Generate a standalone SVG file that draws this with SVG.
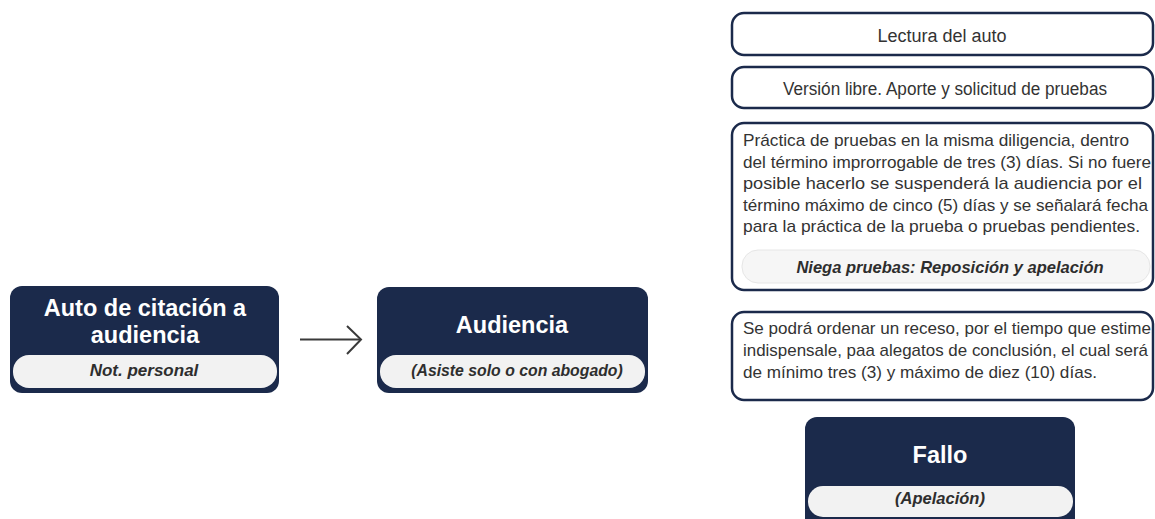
<svg xmlns="http://www.w3.org/2000/svg" width="1155" height="519" viewBox="0 0 1155 519">
<style>
.dark{fill:#1b2a4b;}
.pill{fill:#f2f2f2;}
.out{fill:#ffffff;stroke:#1b2a4b;stroke-width:2.5;}
.title{font-family:"Liberation Sans",Arial,sans-serif;font-weight:bold;font-size:23.5px;fill:#ffffff;text-anchor:middle;}
.sub{font-family:"Liberation Sans",Arial,sans-serif;font-weight:bold;font-style:italic;font-size:16.5px;fill:#2e2e2e;text-anchor:middle;}
.body{font-family:"Liberation Sans",Arial,sans-serif;font-size:18px;fill:#333333;}
.para{font-size:17px;}
.mid{text-anchor:middle;}
.conn{fill:none;stroke:#3a3a3a;stroke-width:2;}
</style>
<rect width="1155" height="519" fill="#ffffff"/>
<g id="connectors">
<line class="conn" x1="300" y1="339.5" x2="361" y2="339.5"/>
<polyline class="conn" points="347,326 361,339.5 347,354"/>
</g>
<g id="node-auto">
<rect class="dark" x="10" y="286" width="269" height="107" rx="12"/>
<rect class="pill" x="13" y="355" width="264" height="33" rx="16"/>
<text class="title" x="145" y="316">Auto de citación a</text>
<text class="title" x="145" y="343">audiencia</text>
<text class="sub" x="144" y="376" style="font-size:17px">Not. personal</text>
</g>
<g id="node-audiencia">
<rect class="dark" x="377" y="287" width="271" height="106" rx="12"/>
<rect class="pill" x="380" y="355" width="265" height="33" rx="16"/>
<text class="title" x="512" y="333">Audiencia</text>
<text class="sub" x="517" y="376" style="font-size:15.8px">(Asiste solo o con abogado)</text>
</g>
<g id="node-lectura">
<rect class="out" x="732" y="13" width="421" height="42" rx="12"/>
<text class="body mid" x="942" y="42">Lectura del auto</text>
</g>
<g id="node-version">
<rect class="out" x="732" y="67" width="421" height="41" rx="12"/>
<text class="body mid" x="945" y="95" textLength="324" lengthAdjust="spacingAndGlyphs">Versión libre. Aporte y solicitud de pruebas</text>
</g>
<g id="node-practica">
<rect class="out" x="732" y="123" width="421" height="167" rx="12"/>
<text class="body para" x="743" y="146" textLength="386" lengthAdjust="spacingAndGlyphs">Práctica de pruebas en la misma diligencia, dentro</text>
<text class="body para" x="743" y="167.5" textLength="408" lengthAdjust="spacingAndGlyphs">del término improrrogable de tres (3) días. Si no fuere</text>
<text class="body para" x="743" y="189" textLength="399" lengthAdjust="spacingAndGlyphs">posible hacerlo se suspenderá la audiencia por el</text>
<text class="body para" x="743" y="210.5" textLength="405" lengthAdjust="spacingAndGlyphs">término máximo de cinco (5) días y se señalará fecha</text>
<text class="body para" x="743" y="232" textLength="397" lengthAdjust="spacingAndGlyphs">para la práctica de la prueba o pruebas pendientes.</text>
<rect x="742" y="250" width="408" height="33" rx="16" fill="#f6f6f6" stroke="#e6e6e6" stroke-width="1"/>
<text class="sub" x="950" y="273">Niega pruebas: Reposición y apelación</text>
</g>
<g id="node-receso">
<rect class="out" x="732" y="312" width="421" height="88" rx="12"/>
<text class="body para" x="743" y="334" textLength="408" lengthAdjust="spacingAndGlyphs">Se podrá ordenar un receso, por el tiempo que estime</text>
<text class="body para" x="743" y="356" textLength="405" lengthAdjust="spacingAndGlyphs">indispensale, paa alegatos de conclusión, el cual será</text>
<text class="body para" x="743" y="378" textLength="354" lengthAdjust="spacingAndGlyphs">de mínimo tres (3) y máximo de diez (10) días.</text>
</g>
<g id="node-fallo">
<rect class="dark" x="805" y="417" width="270" height="114" rx="12"/>
<rect class="pill" x="808" y="486" width="265" height="31" rx="15"/>
<text class="title" x="940" y="463">Fallo</text>
<text class="sub" x="940" y="504">(Apelación)</text>
</g>
</svg>
